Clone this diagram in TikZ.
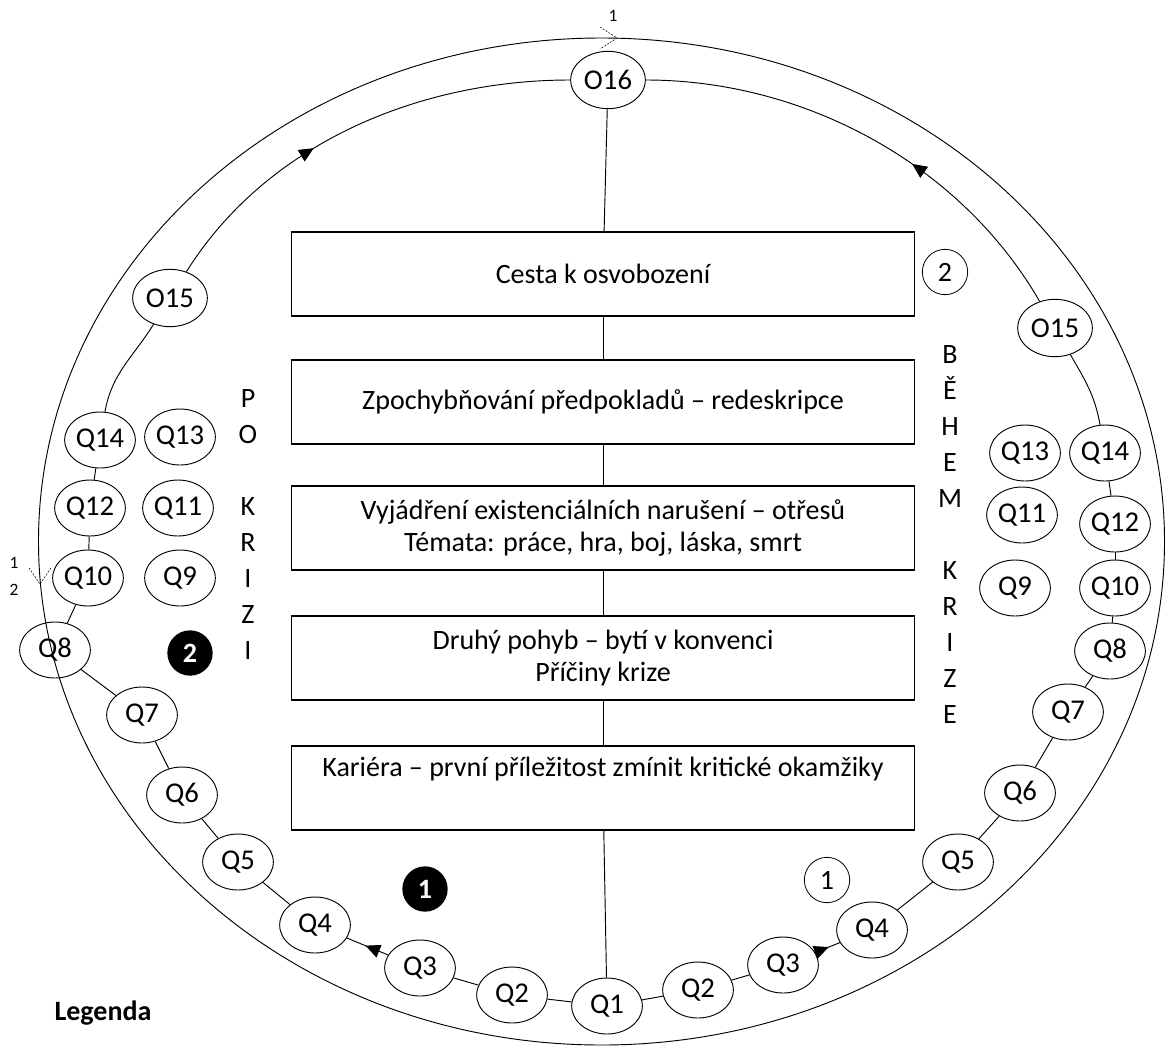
\documentclass[tikz,border=0pt]{standalone}
\usepackage{fontspec}
\setmainfont{Carlito}
\usetikzlibrary{shapes.geometric,arrows.meta,decorations.markings}
\begin{document}
\begin{tikzpicture}[x=0.75pt,y=-0.75pt,
  ln/.style={line width=0.7pt},
  qn/.style={ellipse,draw,line width=0.7pt,minimum width=53pt,minimum height=42pt,inner sep=0pt,font=\fontsize{21.5}{25}\selectfont},
  on/.style={qn,minimum width=56pt,minimum height=43pt},
  boxn/.style={draw,line width=0.9pt,minimum width=467pt,minimum height=63pt,align=center,font=\fontsize{21}{24}\selectfont},
  midarrow/.style={decoration={markings,mark=at position #1 with {\arrow{Triangle[length=11pt,width=10pt]}}},postaction={decorate}},
  opencirc/.style={circle,draw,line width=0.6pt,minimum size=34pt,inner sep=0pt,font=\fontsize{21}{24}\selectfont},
  blackcirc/.style={circle,fill=black,text=white,minimum size=34pt,inner sep=0pt,font=\bfseries\fontsize{21}{24}\selectfont},
  vlet/.style={align=center,font=\fontsize{21}{27}\selectfont},
  smalll/.style={font=\fontsize{13}{15}\selectfont,inner sep=0pt},
  chev/.style={line width=0.4pt,dash pattern=on 1.5pt off 1pt}
]
\useasboundingbox (0,0) rectangle (1166,1046);
% outer ellipse
\draw[ln] (601.5,541.5) ellipse [x radius=563, y radius=503.5];
% chevrons and small labels
\coordinate (ct) at (617,38);
\draw[chev] (600,27) -- (ct) -- (600,49);
\node[smalll] (lt1) at (613,16) {1};
\coordinate (cl) at (40,584);
\draw[chev] (29,568) -- (cl) -- (51,568);
\node[smalll] (ll1) at (14,563) {1};
\node[smalll] (ll2) at (14,590) {2};

% boxes
\node[boxn] (b1) at (603,274) {Cesta k osvobození};
\node[boxn] (b2) at (603,402) {Zpochybňování předpokladů – redeskripce};
\node[boxn] (b3) at (603,528) {Vyjádření existenciálních narušení – otřesů\\Témata: práce, hra, boj, láska, smrt};
\node[boxn] (b4) at (603,658) {Druhý pohyb – bytí v konvenci\\Příčiny krize};
\node[boxn] (b5) at (603,788) {Kariéra – první příležitost zmínit kritické okamžiky\\\strut};

% ring nodes
\node[on] (o16) at (608,80) {O16};
\node[on] (o15l) at (170,298) {O15};
\node[qn] (q14l) at (100,440) {Q14};
\node[qn] (q13l) at (180,437) {Q13};
\node[qn] (q12l) at (90,508) {Q12};
\node[qn] (q11l) at (178,508) {Q11};
\node[qn] (q10l) at (88,578) {Q10};
\node[qn] (q9l) at (180,578) {Q9};
\node[qn] (q8l) at (55,650) {Q8};
\node[qn] (q7l) at (142,715) {Q7};
\node[qn] (q6l) at (182,795) {Q6};
\node[qn] (q5l) at (238,862) {Q5};
\node[qn] (q4l) at (315,925) {Q4};
\node[qn] (q3l) at (420,968) {Q3};
\node[qn] (q2l) at (512,995) {Q2};
\node[qn] (q1) at (607,1006) {Q1};
\node[qn] (q2r) at (698,990) {Q2};
\node[qn] (q3r) at (783,965) {Q3};
\node[qn] (q4r) at (872,930) {Q4};
\node[qn] (q5r) at (958,862) {Q5};
\node[qn] (q6r) at (1020,793) {Q6};
\node[qn] (q7r) at (1068,712) {Q7};
\node[qn] (q8r) at (1110,651) {Q8};
\node[qn] (q10r) at (1115,588) {Q10};
\node[qn] (q12r) at (1115,524) {Q12};
\node[qn] (q14r) at (1105,453) {Q14};
\node[on] (o15r) at (1055,328) {O15};
\node[qn] (q13r) at (1025,453) {Q13};
\node[qn] (q11r) at (1022,515) {Q11};
\node[qn] (q9r) at (1015,588) {Q9};

% centre line
\draw[ln] (o16) -- (b1);
\draw[ln] (b1) -- (b2);
\draw[ln] (b2) -- (b3);
\draw[ln] (b3) -- (b4);
\draw[ln] (b4) -- (b5);
\draw[ln] (b5) -- (q1);

% ring connectors
\draw[ln,midarrow=0.4] (o15l) to[out=58,in=180,looseness=0.9] (o16);
\draw[ln,midarrow=0.4] (o15r) to[out=120,in=0,looseness=0.9] (o16);
\draw[ln] (o15l) to[out=-122,in=80] (q14l);
\draw[ln] (o15r) to[out=-60,in=100] (q14r);
\draw[ln] (q14l) -- (q12l);
\draw[ln] (q12l) -- (q10l);
\draw[ln] (q10l) -- (q8l);
\draw[ln] (q8l) -- (q7l);
\draw[ln] (q7l) -- (q6l);
\draw[ln] (q6l) -- (q5l);
\draw[ln] (q5l) -- (q4l);
\draw[ln,midarrow=0.55] (q3l) -- (q4l);
\draw[ln] (q3l) -- (q2l);
\draw[ln] (q2l) -- (q1);
\draw[ln] (q1) -- (q2r);
\draw[ln] (q2r) -- (q3r);
\draw[ln,midarrow=0.55] (q3r) -- (q4r);
\draw[ln] (q4r) -- (q5r);
\draw[ln] (q5r) -- (q6r);
\draw[ln] (q6r) -- (q7r);
\draw[ln] (q7r) -- (q8r);
\draw[ln] (q8r) -- (q10r);
\draw[ln] (q10r) -- (q12r);
\draw[ln] (q12r) -- (q14r);

% circled numbers
\node[opencirc] (c2) at (945,272) {2};
\node[opencirc] (c1) at (827,880) {1};
\node[blackcirc] (k1) at (425,889) {1};
\node[blackcirc] (k2) at (190,653) {2};

% vertical words
\node[vlet] (behem) at (950,535) {B\\Ě\\H\\E\\M\\\strut\\K\\R\\I\\Z\\E};
\node[vlet] (pokrizi) at (248,525) {P\\O\\\strut\\K\\R\\I\\Z\\I};

% legend
\node[font=\bfseries\fontsize{21}{25}\selectfont] (leg) at (103,1013) {Legenda};
\end{tikzpicture}
\end{document}
